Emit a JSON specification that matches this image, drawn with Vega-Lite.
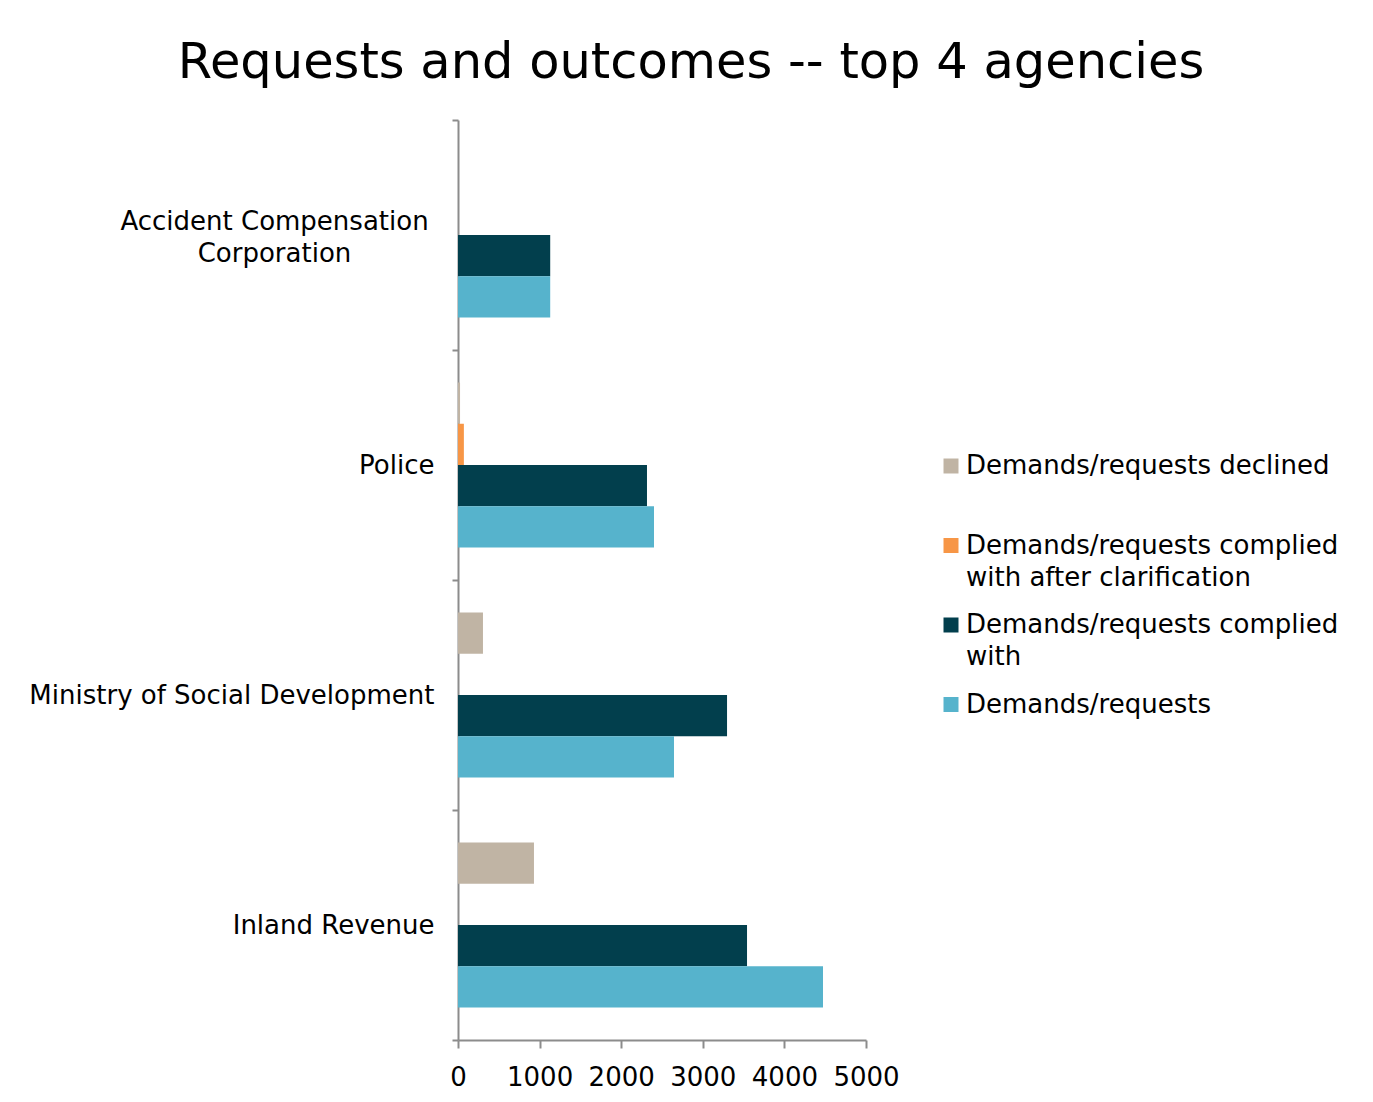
{
  "$schema": "https://vega.github.io/schema/vega-lite/v6.json",
  "autosize": {"type": "none"},
  "padding": {"left": 458, "top": 120, "right": 507, "bottom": 62},
  "width": 408,
  "height": 920,
  "background": "white",
  "title": {
    "text": "Requests and outcomes -- top 4 agencies",
    "font": "DejaVu Sans",
    "fontSize": 49.5,
    "fontWeight": "normal",
    "color": "#000000",
    "anchor": "middle",
    "baseline": "alphabetic",
    "offset": -20,
    "dx": 29
  },
  "data": {
    "values": [
      {"agency": "Accident Compensation Corporation", "series": "Demands/requests declined", "value": 0},
      {"agency": "Accident Compensation Corporation", "series": "Demands/requests complied with after clarification", "value": 0},
      {"agency": "Accident Compensation Corporation", "series": "Demands/requests complied with", "value": 1130},
      {"agency": "Accident Compensation Corporation", "series": "Demands/requests", "value": 1130},
      {"agency": "Police", "series": "Demands/requests declined", "value": 25},
      {"agency": "Police", "series": "Demands/requests complied with after clarification", "value": 72},
      {"agency": "Police", "series": "Demands/requests complied with", "value": 2316},
      {"agency": "Police", "series": "Demands/requests", "value": 2402},
      {"agency": "Ministry of Social Development", "series": "Demands/requests declined", "value": 306},
      {"agency": "Ministry of Social Development", "series": "Demands/requests complied with after clarification", "value": 0},
      {"agency": "Ministry of Social Development", "series": "Demands/requests complied with", "value": 3297},
      {"agency": "Ministry of Social Development", "series": "Demands/requests", "value": 2647},
      {"agency": "Inland Revenue", "series": "Demands/requests declined", "value": 931},
      {"agency": "Inland Revenue", "series": "Demands/requests complied with after clarification", "value": 0},
      {"agency": "Inland Revenue", "series": "Demands/requests complied with", "value": 3542},
      {"agency": "Inland Revenue", "series": "Demands/requests", "value": 4473}
    ]
  },
  "mark": {"type": "bar"},
  "encoding": {
    "y": {
      "field": "agency",
      "type": "nominal",
      "sort": ["Accident Compensation Corporation", "Police", "Ministry of Social Development", "Inland Revenue"],
      "scale": {"paddingInner": 0, "paddingOuter": 0},
      "axis": {
        "title": null,
        "tickBand": "extent",
        "domainColor": "#8c8c8c",
        "domainWidth": 2,
        "tickColor": "#8c8c8c",
        "tickWidth": 2,
        "tickSize": 6,
        "labelFont": "DejaVu Sans",
        "labelFontSize": 26,
        "labelColor": "#000000",
        "labelLineHeight": 32,
        "labelLimit": 500,
        "labelExpr": "datum.value == 'Accident Compensation Corporation' ? ['Accident Compensation', 'Corporation'] : datum.value",
        "labelAlign": {"condition": {"test": "datum.value == 'Accident Compensation Corporation'", "value": "center"}, "value": "right"},
        "labelPadding": {"condition": {"test": "datum.value == 'Accident Compensation Corporation'", "value": 178}, "value": 18},
        "labelOffset": {"condition": {"test": "datum.value == 'Accident Compensation Corporation'", "value": -14}, "value": 0},
        "labelBaseline": "middle"
      }
    },
    "yOffset": {
      "field": "series",
      "type": "nominal",
      "sort": ["Demands/requests declined", "Demands/requests complied with after clarification", "Demands/requests complied with", "Demands/requests"],
      "scale": {"paddingInner": 0, "paddingOuter": 0.788}
    },
    "x": {
      "field": "value",
      "type": "quantitative",
      "scale": {"domain": [0, 5000], "nice": false},
      "axis": {
        "title": null,
        "values": [0, 1000, 2000, 3000, 4000, 5000],
        "format": "d",
        "grid": false,
        "domainColor": "#8c8c8c",
        "domainWidth": 2,
        "tickColor": "#8c8c8c",
        "tickWidth": 2,
        "tickSize": 8,
        "labelFont": "DejaVu Sans",
        "labelFontSize": 26,
        "labelColor": "#000000",
        "labelPadding": 16,
        "labelFlush": false,
        "labelBound": false,
        "labelOverlap": false
      }
    },
    "color": {
      "field": "series",
      "type": "nominal",
      "sort": ["Demands/requests declined", "Demands/requests complied with after clarification", "Demands/requests complied with", "Demands/requests"],
      "scale": {
        "domain": ["Demands/requests declined", "Demands/requests complied with after clarification", "Demands/requests complied with", "Demands/requests"],
        "range": ["#c0b4a4", "#f79646", "#023f4d", "#56b3cc"]
      },
      "legend": {
        "title": null,
        "orient": "none",
        "legendX": 480,
        "legendY": 333,
        "padding": 0,
        "symbolType": "square",
        "symbolSize": 225,
        "symbolStrokeWidth": 0,
        "labelFont": "DejaVu Sans",
        "labelFontSize": 26,
        "labelColor": "#000000",
        "labelLimit": 600,
        "labelOffset": 2,
        "labelBaseline": "middle",
        "rowPadding": 21.5,
        "encode": {"labels": {"update": {"lineHeight": {"value": 32}}}},
        "labelExpr": "datum.value == 'Demands/requests declined' ? ['Demands/requests declined', ' '] : datum.value == 'Demands/requests complied with after clarification' ? ['Demands/requests complied', 'with after clarification'] : datum.value == 'Demands/requests complied with' ? ['Demands/requests complied', 'with'] : datum.value"
      }
    }
  },
  "config": {
    "view": {"stroke": null}
  }
}
